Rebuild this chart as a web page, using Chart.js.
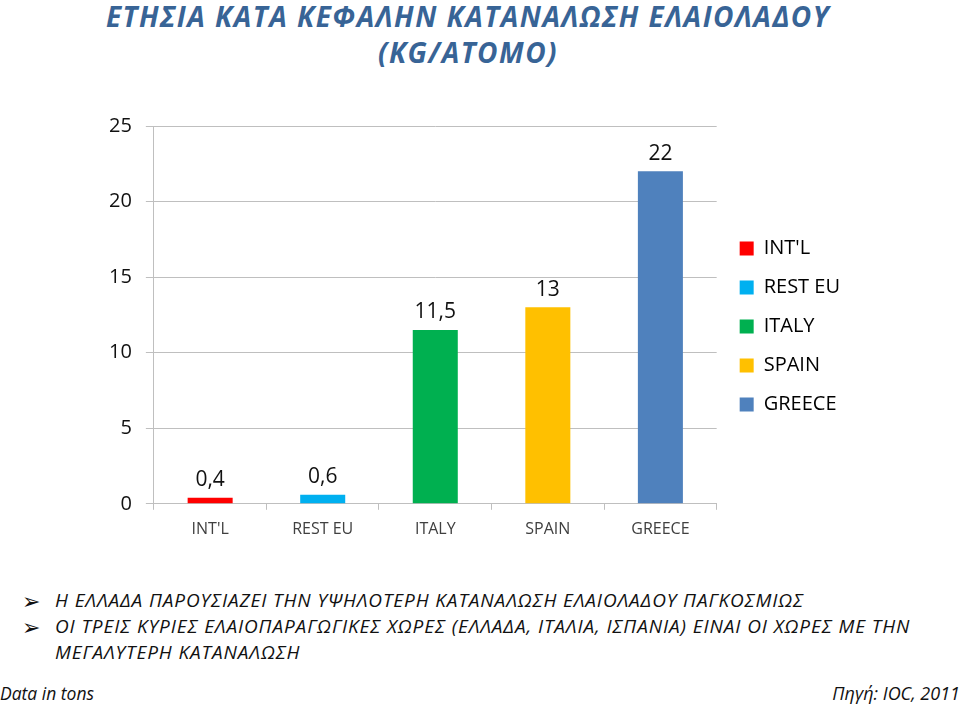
<!DOCTYPE html>
<html>
<head>
<meta charset="utf-8">
<script src="https://cdn.jsdelivr.net/npm/chart.js@4"></script>
<style>
  body { margin: 0; width: 960px; height: 706px; background: #fff; position: relative; overflow: hidden; font-family: "Open Sans", sans-serif; }
  .title { position: absolute; left: 0; width: 936px; top: -2px; text-align: center; color: #386496; font-style: italic; font-weight: bold; font-size: 28px; line-height: 36px; letter-spacing: 1.5px; }
  #wrap { position: absolute; left: 0; top: 100px; width: 960px; height: 460px; }
  .bul { position: absolute; left: 22px; font-style: italic; font-size: 19px; letter-spacing: 0.9px; color: #111; }
  .bul span.b { position: absolute; left: 0; top: -2px; font-style: normal; font-size: 22px; letter-spacing: 0; }
  .bul div { margin-left: 33px; line-height: 26px; }
  .foot { position: absolute; top: 681px; font-style: italic; font-size: 17.5px; color: #111; }
</style>
</head>
<body>
<div class="title">ΕΤΗΣΙΑ ΚΑΤΑ ΚΕΦΑΛΗΝ ΚΑΤΑΝΑΛΩΣΗ ΕΛΑΙΟΛΑΔΟΥ<br>(KG/ATOMO)</div>
<div id="wrap"><canvas id="myChart"></canvas></div>
<div class="bul" style="top:587px"><span class="b">➢</span><div>Η ΕΛΛΑΔΑ ΠΑΡΟΥΣΙΑΖΕΙ ΤΗΝ ΥΨΗΛΟΤΕΡΗ ΚΑΤΑΝΑΛΩΣΗ ΕΛΑΙΟΛΑΔΟΥ ΠΑΓΚΟΣΜΙΩΣ</div></div>
<div class="bul" style="top:613px"><span class="b">➢</span><div>ΟΙ ΤΡΕΙΣ ΚΥΡΙΕΣ ΕΛΑΙΟΠΑΡΑΓΩΓΙΚΕΣ ΧΩΡΕΣ (ΕΛΛΑΔΑ, ΙΤΑΛΙΑ, ΙΣΠΑΝΙΑ) ΕΙΝΑΙ ΟΙ ΧΩΡΕΣ ΜΕ ΤΗΝ<br>ΜΕΓΑΛΥΤΕΡΗ ΚΑΤΑΝΑΛΩΣΗ</div></div>
<div class="foot" style="left:0">Data in tons</div>
<div class="foot" style="right:0; font-size:18px">Πηγή: IOC, 2011</div>
<script>
const countries = ['INT\'L', 'REST EU', 'ITALY', 'SPAIN', 'GREECE'];
const consumption = [0.4, 0.6, 11.5, 13, 22];
const barColors = ['#FF0000', '#00B0F0', '#00B050', '#FFC000', '#4F81BD'];
const yTicks = [0, 5, 10, 15, 20, 25];

const ctx = document.getElementById('myChart').getContext('2d');

// values above each bar, greek style decimal comma
const valueLabels = {
    id: 'valueLabels',
    afterDatasetsDraw(chart) {
        const c = chart.ctx;
        const meta = chart.getDatasetMeta(0);
        c.save();
        c.font = '21px "Open Sans"';
        c.fillStyle = '#111';
        c.textAlign = 'center';
        c.textBaseline = 'bottom';
        meta.data.forEach((bar, i) => {
            c.fillText(String(consumption[i]).replace('.', ','), bar.x, bar.y - 7);
        });
        c.restore();
    }
};

// nudge the legend a bit up and right, like the original slide
const legendNudge = {
    id: 'legendNudge',
    afterLayout(chart) {
        const lg = chart.legend;
        lg.top -= 11; lg.bottom -= 11;
        lg.left += 4; lg.right += 4;
    }
};

let myChart = new Chart(ctx, {
    type: 'bar',
    data: {
        labels: countries,
        datasets: [{
            label: 'KG/ATOMO',
            data: consumption,
            backgroundColor: barColors,
            barPercentage: 0.4,
            categoryPercentage: 1
        }]
    },
    options: {
        responsive: true,
        maintainAspectRatio: false,
        animation: false,
        layout: { padding: { top: 26, left: 95, right: 114, bottom: 11 } },
        plugins: {
            tooltip: { enabled: false },
            legend: {
                position: 'right',
                labels: {
                    boxWidth: 14,
                    boxHeight: 14,
                    padding: 19,
                    color: '#111',
                    font: { family: 'Open Sans', size: 20 },
                    generateLabels: chart => countries.map((c, i) => ({
                        text: c,
                        fillStyle: barColors[i],
                        strokeStyle: barColors[i],
                        lineWidth: 0,
                        index: i
                    }))
                }
            }
        },
        scales: {
            x: {
                grid: { drawOnChartArea: false, tickLength: 6, color: '#BFBFBF', offset: true },
                border: { color: '#BFBFBF' },
                ticks: { color: '#404040', font: { family: 'Open Sans', size: 16 }, padding: 10 }
            },
            y: {
                min: 0,
                max: 25,
                afterBuildTicks: axis => { axis.ticks = yTicks.map(v => ({ value: v })); },
                grid: { color: '#BFBFBF', tickLength: 8 },
                border: { color: '#BFBFBF' },
                ticks: { color: '#111', font: { family: 'Open Sans', size: 20 }, padding: 14 }
            }
        }
    },
    plugins: [valueLabels, legendNudge]
});
</script>
</body>
</html>
